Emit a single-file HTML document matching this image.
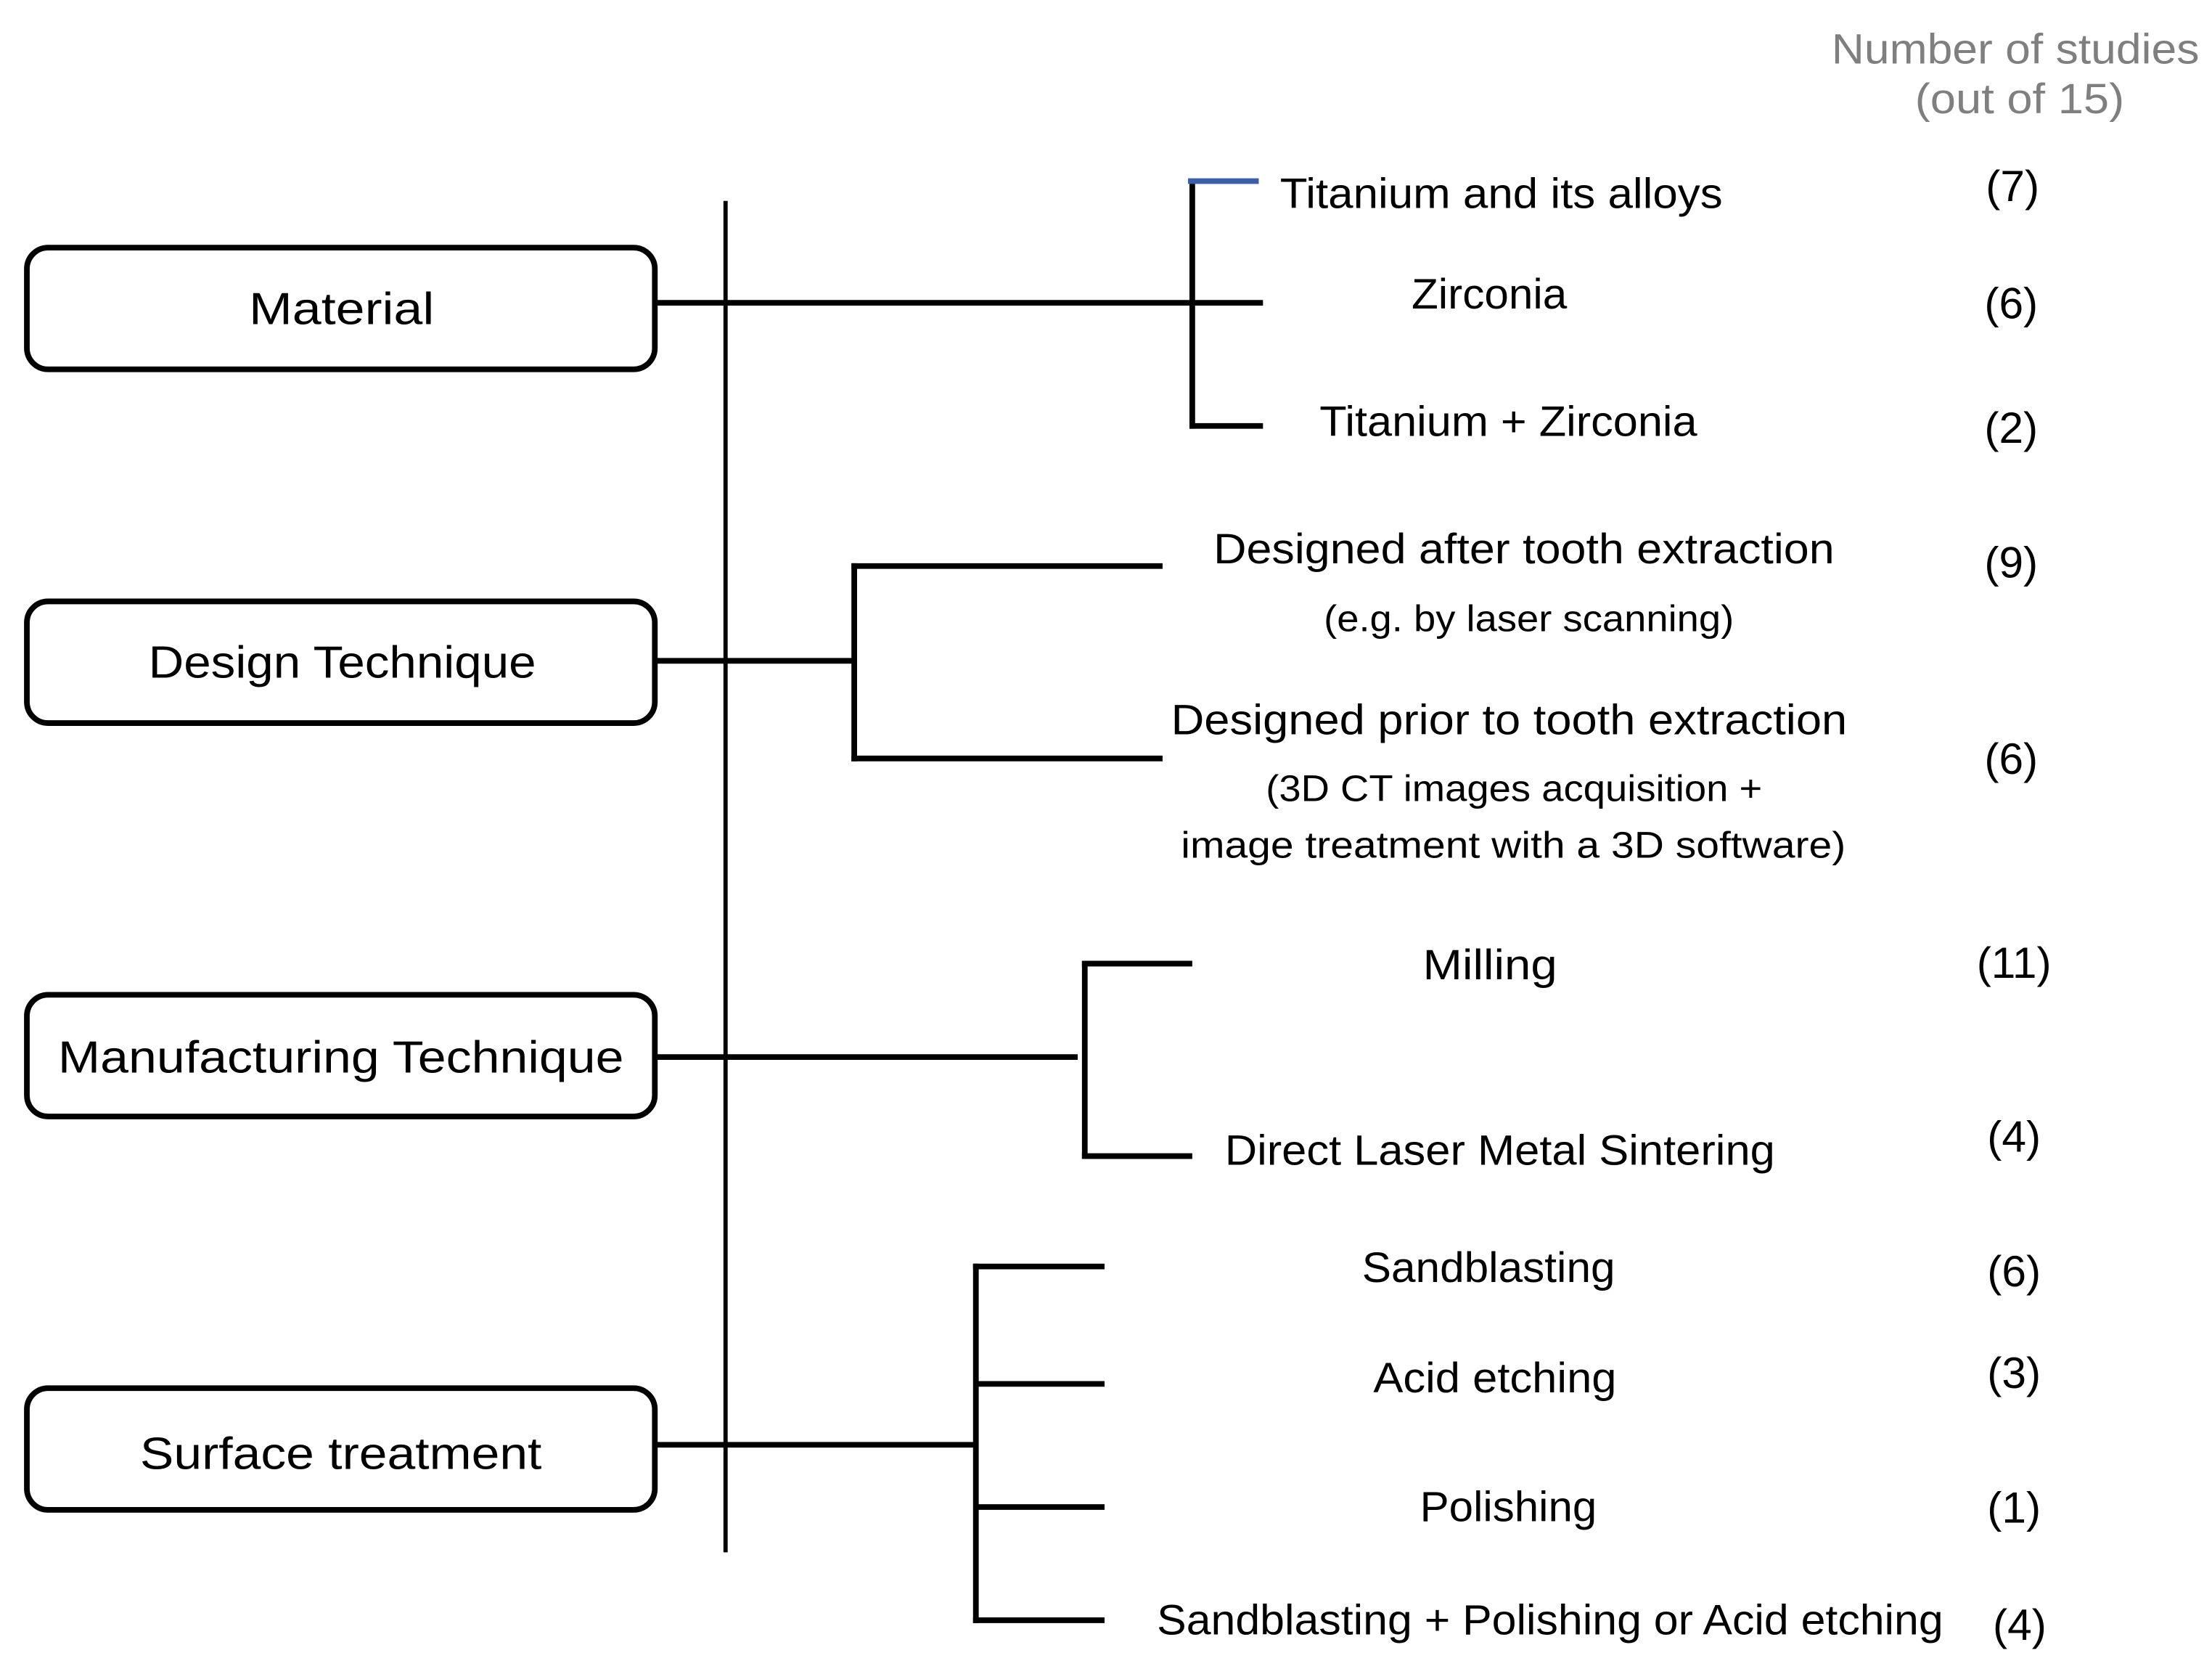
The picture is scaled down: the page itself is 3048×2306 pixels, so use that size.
<!DOCTYPE html>
<html><head><meta charset="utf-8"><style>html,body{margin:0;padding:0;background:#fff}svg{display:block}</style></head>
<body>
<svg width="3048" height="2306" viewBox="0 0 1564 1183" preserveAspectRatio="none" xmlns="http://www.w3.org/2000/svg" font-family="Liberation Sans, sans-serif">
<rect width="1564" height="1183" fill="#fff"/>
<g fill="none" stroke="#000">
<line x1="513" y1="142" x2="513" y2="1097" stroke-width="3"/>
<rect x="19" y="175" width="444" height="86" rx="15" stroke-width="4"/>
<rect x="19" y="425" width="444" height="86" rx="15" stroke-width="4"/>
<rect x="19" y="703" width="444" height="86" rx="15" stroke-width="4"/>
<rect x="19" y="981" width="444" height="86" rx="15" stroke-width="4"/>
<g stroke-width="4">
<line x1="463" y1="214" x2="893" y2="214"/>
<line x1="843" y1="128" x2="843" y2="303"/>
<line x1="841" y1="301" x2="893" y2="301"/>
<line x1="463" y1="467" x2="604" y2="467"/>
<line x1="604" y1="398" x2="604" y2="538"/>
<line x1="602" y1="400" x2="822" y2="400"/>
<line x1="602" y1="536" x2="822" y2="536"/>
<line x1="463" y1="747" x2="762" y2="747"/>
<line x1="767" y1="679" x2="767" y2="819"/>
<line x1="765" y1="681" x2="843" y2="681"/>
<line x1="765" y1="817" x2="843" y2="817"/>
<line x1="463" y1="1021" x2="690" y2="1021"/>
<line x1="690" y1="893" x2="690" y2="1147"/>
<line x1="688" y1="895" x2="781" y2="895"/>
<line x1="690" y1="978" x2="781" y2="978"/>
<line x1="690" y1="1065" x2="781" y2="1065"/>
<line x1="688" y1="1145" x2="781" y2="1145"/>
</g>
<line x1="840" y1="128" x2="890" y2="128" stroke="#3b5ea8" stroke-width="4"/>
</g>
<g fill="#7f7f7f" font-size="30">
<text x="1295" y="45" textLength="260" lengthAdjust="spacingAndGlyphs">Number of studies</text>
<text x="1354" y="80" textLength="148" lengthAdjust="spacingAndGlyphs">(out of 15)</text>
</g>
<g fill="#000" font-size="32">
<text x="176" y="229" textLength="131" lengthAdjust="spacingAndGlyphs">Material</text>
<text x="105" y="479" textLength="274" lengthAdjust="spacingAndGlyphs">Design Technique</text>
<text x="41" y="758" textLength="400" lengthAdjust="spacingAndGlyphs">Manufacturing Technique</text>
<text x="99" y="1038" textLength="284" lengthAdjust="spacingAndGlyphs">Surface treatment</text>
</g>
<g fill="#000" font-size="30">
<text x="905" y="147" textLength="313" lengthAdjust="spacingAndGlyphs">Titanium and its alloys</text>
<text x="998" y="218" textLength="110" lengthAdjust="spacingAndGlyphs">Zirconia</text>
<text x="933" y="308" textLength="267" lengthAdjust="spacingAndGlyphs">Titanium + Zirconia</text>
<text x="858" y="398" textLength="439" lengthAdjust="spacingAndGlyphs">Designed after tooth extraction</text>
<text x="828" y="519" textLength="478" lengthAdjust="spacingAndGlyphs">Designed prior to tooth extraction</text>
<text x="1006" y="692" textLength="95" lengthAdjust="spacingAndGlyphs">Milling</text>
<text x="866" y="823" textLength="389" lengthAdjust="spacingAndGlyphs">Direct Laser Metal Sintering</text>
<text x="963" y="906" textLength="179" lengthAdjust="spacingAndGlyphs">Sandblasting</text>
<text x="971" y="984" textLength="172" lengthAdjust="spacingAndGlyphs">Acid etching</text>
<text x="1004" y="1075" textLength="125" lengthAdjust="spacingAndGlyphs">Polishing</text>
<text x="818" y="1155" textLength="556" lengthAdjust="spacingAndGlyphs">Sandblasting + Polishing or Acid etching</text>
</g>
<g fill="#000" font-size="26">
<text x="936" y="446" textLength="290" lengthAdjust="spacingAndGlyphs">(e.g. by laser scanning)</text>
<text x="895" y="566" textLength="351" lengthAdjust="spacingAndGlyphs">(3D CT images acquisition +</text>
<text x="835" y="606" textLength="470" lengthAdjust="spacingAndGlyphs">image treatment with a 3D software)</text>
</g>
<g fill="#000" font-size="31" text-anchor="middle">
<text x="1423" y="142">(7)</text>
<text x="1422" y="225">(6)</text>
<text x="1422" y="313">(2)</text>
<text x="1422" y="408">(9)</text>
<text x="1422" y="547">(6)</text>
<text x="1424" y="691">(11)</text>
<text x="1424" y="814">(4)</text>
<text x="1424" y="909">(6)</text>
<text x="1424" y="981">(3)</text>
<text x="1424" y="1076">(1)</text>
<text x="1428" y="1159">(4)</text>
</g>
</svg>
</body></html>
